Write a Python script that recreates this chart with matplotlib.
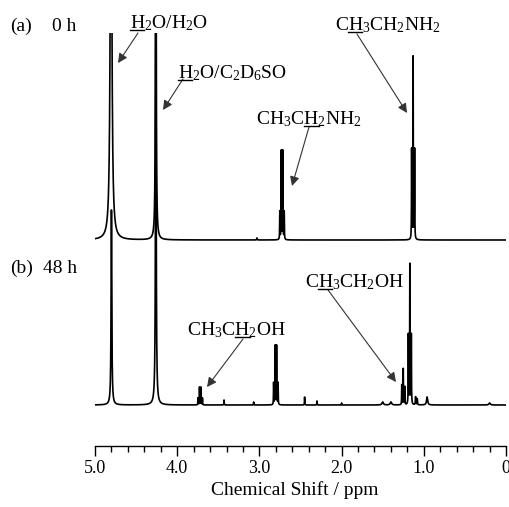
import numpy as np
import matplotlib
matplotlib.use("Agg")
import matplotlib.pyplot as plt
from matplotlib.lines import Line2D

plt.rcParams["font.family"] = "Liberation Serif"
plt.rcParams["mathtext.fontset"] = "custom"
plt.rcParams["mathtext.rm"] = "Liberation Serif"
plt.rcParams["mathtext.default"] = "regular"

# peak lists: position (ppm), height (px above baseline), half width (ppm)
ppm_a = [4.805, 4.26, 3.03, 2.752, 2.734, 2.716, 2.698, 1.148, 1.130, 1.112]
height_a = [500, 600, 2, 28, 90, 90, 28, 90, 182, 90]
width_a = [0.010, 0.004, 0.003, 0.002, 0.002, 0.002, 0.002, 0.002, 0.002, 0.002]

ppm_b = [4.80, 4.26, 3.747, 3.729, 3.711, 3.693, 3.43, 3.07,
         2.827, 2.809, 2.791, 2.773, 2.45, 2.30, 2.00, 1.50, 1.40,
         1.268, 1.250, 1.232, 1.188, 1.170, 1.152, 1.10, 1.08, 0.96, 0.20]
height_b = [195, 380, 7, 18, 18, 7, 5, 3,
            22, 60, 60, 22, 8, 4, 2, 3, 3,
            20, 36, 18, 70, 140, 70, 8, 6, 8, 2]
width_b = [0.005, 0.005, 0.002, 0.002, 0.002, 0.002, 0.002, 0.002,
           0.002, 0.002, 0.002, 0.002, 0.002, 0.002, 0.002, 0.010, 0.010,
           0.002, 0.002, 0.002, 0.002, 0.002, 0.002, 0.003, 0.003, 0.008, 0.010]

base_a = 206
base_b = 41

xticks = [5.0, 4.0, 3.0, 2.0, 1.0, 0.0]
xtick_labels = ["5.0", "4.0", "3.0", "2.0", "1.0", "0"]

FS = 14


def spectrum(x, pos, hts, wid):
    y = np.zeros_like(x)
    for p, h, w in zip(pos, hts, wid):
        y += h * w**2 / ((x - p) ** 2 + w**2)
    return y


W, H = 510, 507
fig = plt.figure(figsize=(W / 100, H / 100), dpi=100)
ax = fig.add_axes([95 / W, 61 / H, 411 / W, 413 / H])

x = np.linspace(5.0, 0.0, 8001)
ax.plot(x, base_a + spectrum(x, ppm_a, height_a, width_a), color="black", lw=1.2)
ax.plot(x, base_b + spectrum(x, ppm_b, height_b, width_b), color="black", lw=1.2)

ax.set_xlim(5.0, 0.0)
ax.set_ylim(0, 413)
for s in ["left", "top", "right"]:
    ax.spines[s].set_visible(False)
ax.spines["bottom"].set_linewidth(1.0)
ax.set_yticks([])
ax.set_xticks(xticks)
ax.set_xticklabels(xtick_labels, fontsize=13)
ax.xaxis.set_minor_locator(plt.MultipleLocator(0.2))
ax.tick_params(axis="x", which="major", direction="out", length=7, width=1.0, pad=3)
ax.tick_params(axis="x", which="minor", direction="out", length=4, width=1.0)
ax.set_xlabel("Chemical Shift / ppm", fontsize=14)
ax.xaxis.set_label_coords(0.485, -0.085)


def fx(px):
    return px / W


def fy(py):
    return 1 - py / H


def ppm_of(px):
    return 5.0 - (px - 95) / 82.2


fig.text(fx(10), fy(31), "(a)", fontsize=FS, va="baseline")
fig.text(fx(52), fy(31), "0 h", fontsize=FS, va="baseline")
fig.text(fx(10), fy(273), "(b)", fontsize=FS, va="baseline")
fig.text(fx(43), fy(273), "48 h", fontsize=FS, va="baseline")

# label text, prefix before underlined H, left x, baseline y, arrow start, arrow tip (pixels)
labels = [
    ("H$_2$O/H$_2$O", "", 130, 28, (138, 33), (118, 63)),
    ("H$_2$O/C$_2$D$_6$SO", "", 178, 78, (183, 79), (163, 110)),
    ("CH$_3$CH$_2$NH$_2$", "CH$_3$C", 256, 124, (309, 127), (292, 186)),
    ("CH$_3$CH$_2$NH$_2$", "C", 335, 30, (357, 34), (407, 113)),
    ("CH$_3$CH$_2$OH", "C", 305, 287, (328, 290), (396, 382)),
    ("CH$_3$CH$_2$OH", "CH$_3$C", 187, 335, (243, 339), (207, 387)),
]

fig.canvas.draw()
renderer = fig.canvas.get_renderer()

for txt, prefix, lx, by, start, tip in labels:
    fig.text(fx(lx), fy(by), txt, fontsize=FS, va="baseline")
    x0 = lx
    if prefix:
        tmp = fig.text(0, 0, prefix, fontsize=FS)
        x0 = lx + tmp.get_window_extent(renderer).width
        tmp.remove()
    tmp = fig.text(0, 0, "H", fontsize=FS)
    wH = tmp.get_window_extent(renderer).width
    tmp.remove()
    fig.add_artist(Line2D([fx(x0), fx(x0 + wH)], [fy(by + 1.5), fy(by + 1.5)],
                          transform=fig.transFigure, color="black", lw=1.0))
    ax.annotate("", xy=(ppm_of(tip[0]), 446 - tip[1]), xycoords="data",
                xytext=(fx(start[0]), fy(start[1])), textcoords="figure fraction",
                arrowprops=dict(arrowstyle="-|>", color="#333333", lw=0.8,
                                mutation_scale=14, shrinkA=0, shrinkB=0),
                annotation_clip=False)

fig.savefig("out.png", dpi=100)
